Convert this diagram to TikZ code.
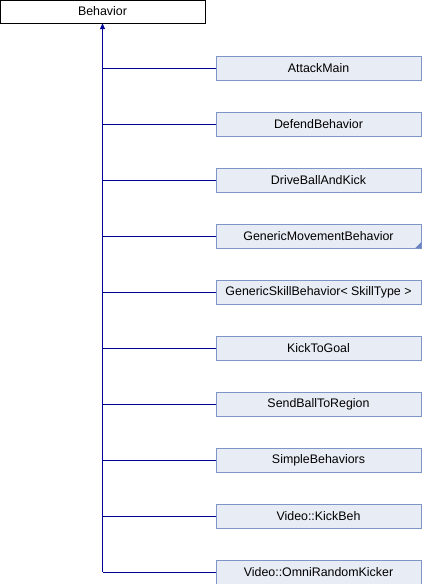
\documentclass[tikz,border=0pt]{standalone}
\usepackage{fontspec}
\setmainfont{Liberation Sans}
\usetikzlibrary{arrows.meta}

\definecolor{boxline}{RGB}{127,149,200}
\definecolor{boxfill}{RGB}{232,236,244}
\definecolor{edgeblue}{RGB}{0,0,148}
\definecolor{cornerblue}{RGB}{108,132,196}

\tikzset{
  classbox/.style={draw=boxline, fill=boxfill, minimum width=205pt, minimum height=24pt,
    inner sep=0pt, font=\fontsize{12.4}{14}\selectfont},
  basebox/.style={draw=black, fill=white, minimum width=205pt, minimum height=23pt,
    inner sep=0pt, font=\fontsize{12.4}{14}\selectfont},
  edge/.style={draw=edgeblue, line width=0.9pt}
}

\begin{document}
\begin{tikzpicture}[x=1pt, y=-1pt]
    \useasboundingbox (0,0) rectangle (422,584);

    % base class at the top
    \node[basebox] (behavior) at (102.5,11.5) {Behavior};

    % derived classes, one row every 56px
    \node[classbox] (attack)  at (318.5,68)  {AttackMain};
    \node[classbox] (defend)  at (318.5,124) {DefendBehavior};
    \node[classbox] (drive)   at (318.5,180) {DriveBallAndKick};
    \node[classbox] (movement) at (318.5,236) {GenericMovementBehavior};
    \node[classbox] (skill)   at (318.5,292) {GenericSkillBehavior\textless{} SkillType \textgreater};
    \node[classbox] (kickgoal) at (318.5,348) {KickToGoal};
    \node[classbox] (region)  at (318.5,404) {SendBallToRegion};
    \node[classbox] (simple)  at (318.5,460) {SimpleBehaviors};
    \node[classbox] (kickbeh) at (318.5,516) {Video::KickBeh};
    \node[classbox] (omni)    at (318.5,572) {Video::OmniRandomKicker};

    % marker: this one has more children
    \fill[cornerblue] (movement.south east) -- ++(-6,0) -- ++(6,-6) -- cycle;

    % trunk with the inheritance arrow
    \coordinate (trunkend) at (omni.west -| behavior.south);
    \draw[edge, {Triangle[length=6pt, width=5pt]}-] (behavior.south) -- (trunkend);

    % branches
    \foreach \kid in {attack, defend, drive, movement, skill, kickgoal, region, simple, kickbeh, omni}
      \draw[edge] (\kid.west) -- (\kid.west -| behavior.south);

\end{tikzpicture}
\end{document}
